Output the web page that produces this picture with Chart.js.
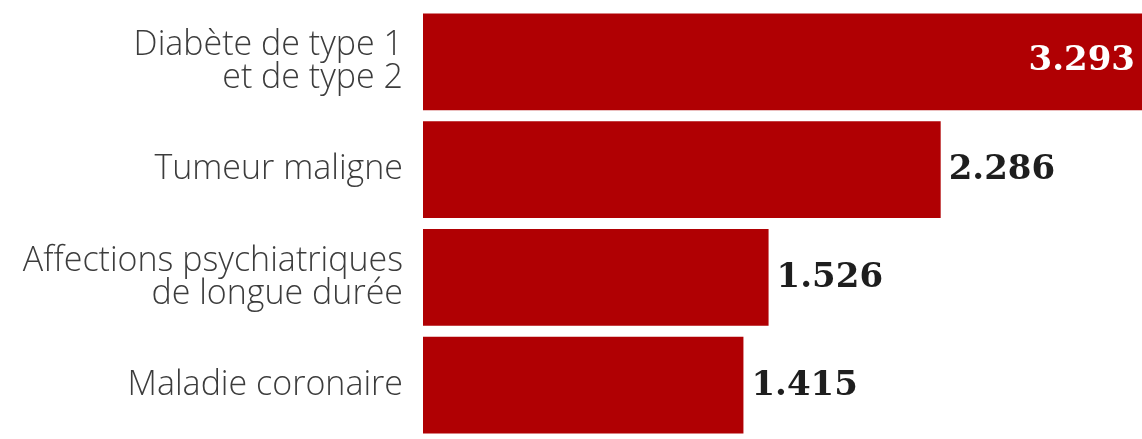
<!DOCTYPE html>
<html>
<head>
<meta charset="utf-8">
<script src="https://cdn.jsdelivr.net/npm/chart.js@4.4.0/dist/chart.umd.min.js"></script>
<style>
  html, body { margin: 0; padding: 0; background: #fff; }
  #wrap { width: 1142px; height: 439px; }
</style>
</head>
<body>
<div id="wrap"><canvas id="myChart"></canvas></div>
<script>
const ctx = document.getElementById('myChart').getContext('2d');

// données
const categories = [
    ["Diabète de type 1", "et de type 2"],
    "Tumeur maligne",
    ["Affections psychiatriques", "de longue durée"],
    "Maladie coronaire"
];
const valeurs = [3293, 2286, 1526, 1415];
const etiquettes = ["3.293", "2.286", "1.526", "1.415"];

// écrit les valeurs à côté des barres (dans la barre si elle touche le bord)
const valeursPlugin = {
    id: 'valeurs',
    afterDatasetsDraw(chart) {
        const c = chart.ctx;
        const area = chart.chartArea;
        const meta = chart.getDatasetMeta(0);
        c.save();
        c.font = 'bold 34px "DejaVu Serif"';
        c.textBaseline = 'middle';
        meta.data.forEach((bar, i) => {
            const txt = etiquettes[i];
            if (bar.x >= area.right - 5) {
                c.fillStyle = '#ffffff';
                c.textAlign = 'right';
                c.fillText(txt, area.right - 7, bar.y - 1);
            } else {
                c.fillStyle = '#1e1e1e';
                c.textAlign = 'left';
                c.fillText(txt, bar.x + 8, bar.y + 1);
            }
        });
        c.restore();
    }
};

const myChart = new Chart(ctx, {
    type: 'bar',
    data: {
        labels: categories,
        datasets: [{
            data: valeurs,
            backgroundColor: '#b00003',
            borderWidth: 0,
            categoryPercentage: 1,
            barPercentage: 0.9
        }]
    },
    options: {
        indexAxis: 'y',
        responsive: true,
        maintainAspectRatio: false,
        animation: false,
        layout: { padding: { top: 8, bottom: 0, left: 0, right: 0 } },
        plugins: {
            legend: { display: false },
            tooltip: { enabled: false }
        },
        scales: {
            x: {
                display: false,
                min: 0,
                max: 3175
            },
            y: {
                grid: { display: false, drawTicks: false },
                border: { display: false },
                afterFit(scale) {
                    scale.width = 423;
                    scale.paddingTop = 0;
                    scale.paddingBottom = 0;
                },
                ticks: {
                    color: '#3c3c3c',
                    padding: 20,
                    font: { family: 'Open Sans', size: 34, weight: '300', lineHeight: 0.97 }
                }
            }
        }
    },
    plugins: [valeursPlugin]
});
</script>
</body>
</html>
